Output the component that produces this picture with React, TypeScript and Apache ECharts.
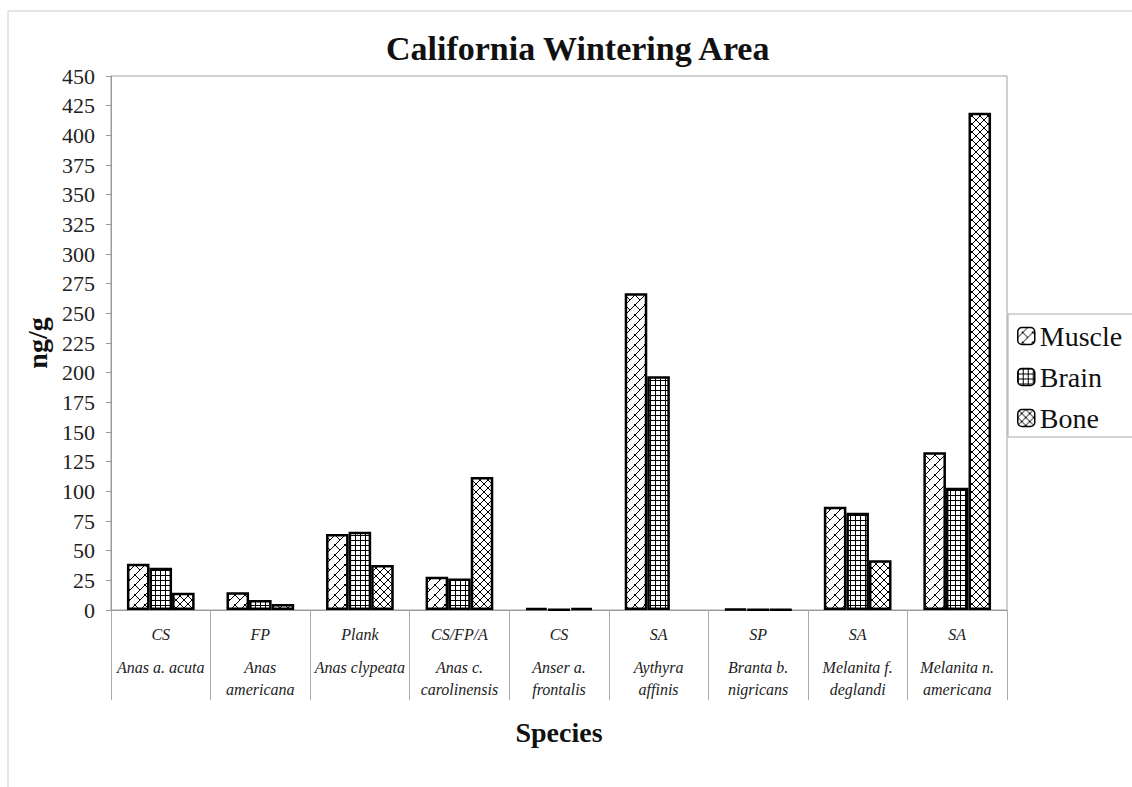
import React, { useEffect, useRef } from "react";
import * as echarts from "echarts";

const species = [
  "Anas a. acuta",
  "Anas\namericana",
  "Anas clypeata",
  "Anas c.\ncarolinensis",
  "Anser a.\nfrontalis",
  "Aythyra\naffinis",
  "Branta b.\nnigricans",
  "Melanita f.\ndeglandi",
  "Melanita n.\namericana",
];
const feedingCodes = ["CS", "FP", "Plank", "CS/FP/A", "CS", "SA", "SP", "SA", "SA"];
const muscle = [39, 15, 64, 28, 1.5, 267, 1, 87, 133];
const brain = [35.5, 8.5, 66, 26.5, 0.5, 197, 0.6, 82, 103];
const bone = [14.5, 5, 38, 112, 1.5, null, 0.3, 42, 419];
const seriesNames = ["Muscle", "Brain", "Bone"];

const SERIF = "Liberation Serif";

function makeTile(size: number, draw: (ctx: CanvasRenderingContext2D, s: number) => void) {
  const c = document.createElement("canvas");
  c.width = size;
  c.height = size;
  const ctx = c.getContext("2d") as CanvasRenderingContext2D;
  ctx.fillStyle = "#ffffff";
  ctx.fillRect(0, 0, size, size);
  ctx.strokeStyle = "#000000";
  ctx.lineWidth = 1;
  draw(ctx, size);
  return { image: c.toDataURL(), repeat: "repeat", imageWidth: size, imageHeight: size } as any;
}

function line(ctx: CanvasRenderingContext2D, x1: number, y1: number, x2: number, y2: number) {
  ctx.beginPath();
  ctx.moveTo(x1, y1);
  ctx.lineTo(x2, y2);
  ctx.stroke();
}

export default function App() {
  const ref = useRef<HTMLDivElement>(null);
  useEffect(() => {
    if (!ref.current) return;
    const chart = echarts.init(ref.current, undefined, { renderer: "svg" });

    const musclePat = makeTile(10, (ctx, T) => {
      line(ctx, -2, T + 2, T + 2, -2);
      line(ctx, T / 2 - 1, T / 2 - 1, T + 1, T + 1);
    });
    const brainPat = makeTile(5, (ctx, T) => {
      line(ctx, 0.5, 0, 0.5, T);
      line(ctx, 0, 0.5, T, 0.5);
    });
    const bonePat = makeTile(8, (ctx, T) => {
      line(ctx, -2, T + 2, T + 2, -2);
      line(ctx, -2, -2, T + 2, T + 2);
    });
    const pats = [musclePat, brainPat, bonePat];
    const values = [muscle, brain, bone];

    chart.setOption({
      animation: false,
      backgroundColor: "#ffffff",
      title: {
        text: "California Wintering Area",
        left: 381,
        top: 26,
        textStyle: { fontFamily: SERIF, fontSize: 34, fontWeight: "bold", color: "#111" },
      },
      legend: {
        data: seriesNames,
        orient: "vertical",
        left: 1008,
        top: 314,
        itemWidth: 17,
        itemHeight: 17,
        itemGap: 13,
        padding: [8, 20, 5, 9],
        borderColor: "#aaaaaa",
        borderWidth: 1,
        itemStyle: { borderWidth: 1.5, borderColor: "#000" },
        textStyle: { fontFamily: SERIF, fontSize: 28, color: "#111" },
      },
      graphic: [
        {
          type: "rect",
          silent: true,
          z: -1,
          shape: { x: 8, y: 11, width: 1200, height: 900 },
          style: { fill: "none", stroke: "#cccccc", lineWidth: 1 },
        },
      ],
      grid: { left: 111, top: 76, width: 896, height: 534, show: true, borderColor: "#a0a0a0", borderWidth: 1 },
      xAxis: {
        type: "category",
        data: species,
        name: "Species",
        nameLocation: "middle",
        nameGap: 108,
        nameTextStyle: { fontFamily: SERIF, fontSize: 28, fontWeight: "bold", color: "#111" },
        axisLine: { show: true, lineStyle: { color: "#999999" } },
        axisTick: { show: true, length: 90, lineStyle: { color: "#aaaaaa" } },
        axisLabel: {
          interval: 0,
          margin: 2,
          formatter: (value: string, index: number) =>
            `{c|${feedingCodes[index]}}\n` +
            value
              .split("\n")
              .map((l) => `{s|${l}}`)
              .join("\n"),
          rich: {
            c: { fontFamily: SERIF, fontStyle: "italic", fontSize: 16, lineHeight: 44, color: "#222" },
            s: { fontFamily: SERIF, fontStyle: "italic", fontSize: 16, lineHeight: 22, color: "#222" },
          },
        },
      },
      yAxis: {
        type: "value",
        min: 0,
        max: 450,
        interval: 25,
        name: "ng/g",
        nameLocation: "middle",
        nameGap: 60,
        nameTextStyle: { fontFamily: SERIF, fontSize: 28, fontWeight: "bold", color: "#111" },
        axisLine: { show: true, lineStyle: { color: "#999999" } },
        axisTick: { show: true, length: 5, lineStyle: { color: "#999999" } },
        splitLine: { show: false },
        axisLabel: { fontFamily: SERIF, fontSize: 22, color: "#222", margin: 16 },
      },
      series: seriesNames.map((name, i) => ({
        name,
        type: "bar",
        data: values[i],
        barGap: "0%",
        barCategoryGap: "32%",
        itemStyle: { color: pats[i], borderColor: "#000000", borderWidth: 2.5 },
      })),
    });
    return () => chart.dispose();
  }, []);
  return <div ref={ref} style={{ position: "fixed", left: 0, top: 0, width: 1132, height: 787 }} />;
}
